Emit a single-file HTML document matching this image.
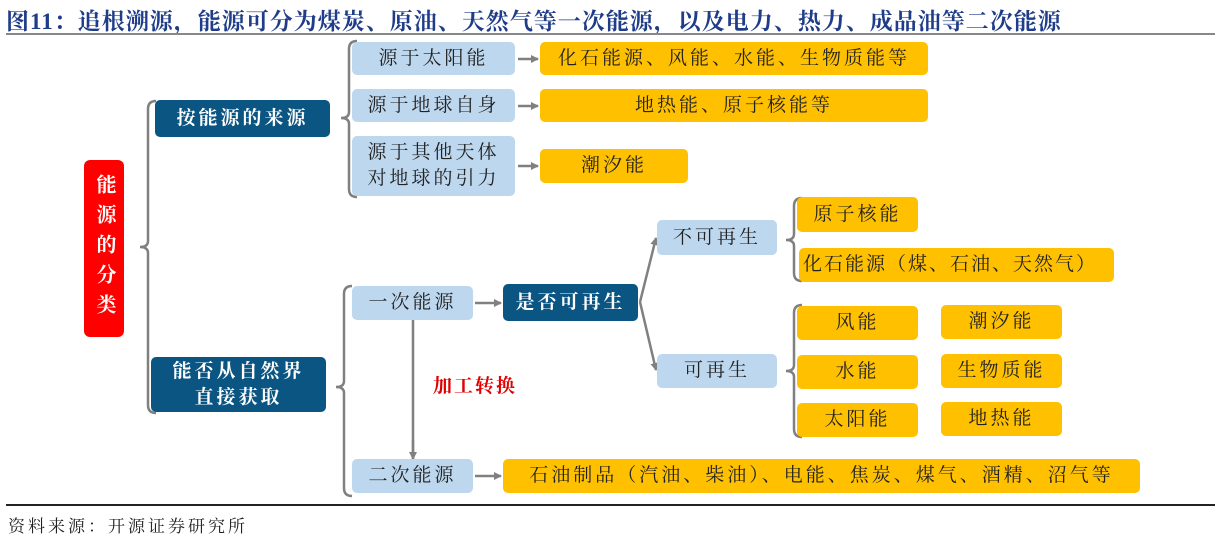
<!DOCTYPE html>
<html><head><meta charset="utf-8"><style>
body{margin:0;width:1223px;height:540px;background:#fff;position:relative;overflow:hidden;font-family:"Liberation Serif","Noto Serif CJK SC",serif;}
.b{position:absolute;display:flex;align-items:center;justify-content:center;text-align:center;border-radius:5px;font-size:19px;line-height:26px;letter-spacing:3px;color:#222;}
.lb{background:#bdd7ee;}
.y{background:#ffc000;}
.d{background:#0b5583;color:#fff;font-weight:bold;}
</style></head><body>
<div style="position:absolute;left:6px;top:3px;font-size:23px;letter-spacing:1px;font-weight:bold;color:#1f3c88;white-space:nowrap;">图11：追根溯源，能源可分为煤炭、原油、天然气等一次能源，以及电力、热力、成品油等二次能源</div>
<div style="position:absolute;left:6px;top:33px;width:1209px;height:2px;background:#888;"></div>
<svg style="position:absolute;left:0;top:0" width="1223" height="540">
<defs><marker id="a" markerWidth="8" markerHeight="8" refX="7" refY="4" orient="auto" markerUnits="userSpaceOnUse"><path d="M0,0 L8,4 L0,8 z" fill="#808080"/></marker></defs>
<g fill="none" stroke="#808080" stroke-width="2.5">
<path d="M156,101 Q148,101 148,109 L148,241 Q148,247 140,247 Q148,247 148,253 L148,405 Q148,413 156,413"/>
<path d="M357,41 Q349,41 349,49 L349,112 Q349,118 341,118 Q349,118 349,124 L349,189 Q349,197 357,197"/>
<path d="M352,286 Q344,286 344,294 L344,381 Q344,387 336,387 Q344,387 344,393 L344,488 Q344,496 352,496"/>
<path d="M802,198 Q794,198 794,206 L794,234 Q794,240 786,240 Q794,240 794,246 L794,273 Q794,281 802,281"/>
<path d="M802,305 Q794,305 794,313 L794,365 Q794,371 786,371 Q794,371 794,377 L794,429 Q794,437 802,437"/>
<path d="M413,320 L413,459"/>
</g>
<g stroke="#808080" stroke-width="2.5" marker-end="url(#a)">
<line x1="518" y1="59" x2="538" y2="59"/>
<line x1="518" y1="106" x2="538" y2="106"/>
<line x1="518" y1="166" x2="538" y2="166"/>
<line x1="475" y1="303" x2="501" y2="303"/>
<line x1="475" y1="476" x2="501" y2="476"/>
<line x1="640" y1="302" x2="656" y2="238"/>
<line x1="640" y1="302" x2="656" y2="370"/>
<line x1="413" y1="440" x2="413" y2="459"/>
</g>
</svg>
<div class="b" style="left:84px;top:160px;width:40px;height:177px;background:#ff0000;color:#fff;font-weight:bold;font-size:20px;line-height:40px;writing-mode:vertical-rl;letter-spacing:10px;border-radius:6px;">能源的分类</div>
<div class="b d" style="left:155px;top:100px;width:175px;height:37px;">按能源的来源</div>
<div class="b d" style="left:151px;top:357px;width:175px;height:55px;">能否从自然界<br>直接获取</div>
<div class="b lb" style="left:352px;top:42px;width:163px;height:33px;">源于太阳能</div>
<div class="b lb" style="left:352px;top:89px;width:163px;height:33px;">源于地球自身</div>
<div class="b lb" style="left:352px;top:136px;width:163px;height:60px;">源于其他天体<br>对地球的引力</div>
<div class="b y" style="left:540px;top:42px;width:388px;height:33px;">化石能源、风能、水能、生物质能等</div>
<div class="b y" style="left:540px;top:89px;width:388px;height:33px;">地热能、原子核能等</div>
<div class="b y" style="left:540px;top:149px;width:148px;height:34px;">潮汐能</div>
<div class="b lb" style="left:352px;top:286px;width:121px;height:34px;">一次能源</div>
<div class="b d" style="left:503px;top:284px;width:135px;height:37px;">是否可再生</div>
<div style="position:absolute;left:433px;top:371px;font-size:19px;font-weight:bold;color:#e00000;letter-spacing:2px;">加工转换</div>
<div class="b lb" style="left:352px;top:459px;width:121px;height:34px;">二次能源</div>
<div class="b y" style="left:503px;top:459px;width:637px;height:34px;">石油制品（汽油、柴油）、电能、焦炭、煤气、酒精、沼气等</div>
<div class="b lb" style="left:657px;top:220px;width:120px;height:35px;">不可再生</div>
<div class="b lb" style="left:657px;top:354px;width:120px;height:34px;">可再生</div>
<div class="b y" style="left:797px;top:197px;width:121px;height:35px;">原子核能</div>
<div class="b y" style="left:799px;top:248px;width:315px;height:34px;justify-content:flex-start;padding-left:4px;box-sizing:border-box;letter-spacing:2px;">化石能源（煤、石油、天然气）</div>
<div class="b y" style="left:797px;top:306px;width:121px;height:34px;">风能</div>
<div class="b y" style="left:941px;top:305px;width:121px;height:34px;">潮汐能</div>
<div class="b y" style="left:797px;top:355px;width:121px;height:34px;">水能</div>
<div class="b y" style="left:941px;top:354px;width:121px;height:34px;">生物质能</div>
<div class="b y" style="left:797px;top:403px;width:121px;height:34px;">太阳能</div>
<div class="b y" style="left:941px;top:402px;width:121px;height:34px;">地热能</div>
<div style="position:absolute;left:6px;top:504px;width:1209px;height:1.5px;background:#222;"></div>
<div style="position:absolute;left:8px;top:512px;font-size:17px;letter-spacing:3px;color:#222;">资料来源：开源证券研究所</div>
</body></html>
